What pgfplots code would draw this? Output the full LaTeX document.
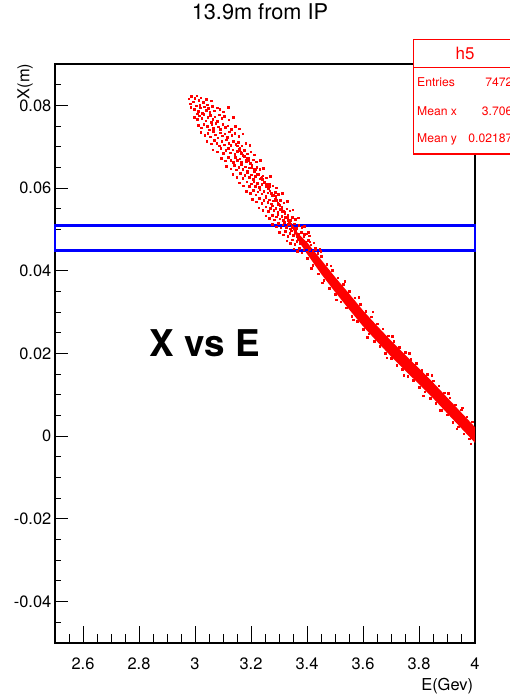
\documentclass[border=0pt]{standalone}
\usepackage{fontspec}
\setmainfont{TeX Gyre Heros}
\usepackage{pgfplots}
\usepackage{pgfplotstable}
\pgfplotsset{compat=1.18}

% sparse upper part of the band, read slice by slice
\pgfplotstableread{
E X
2.978 0.0816
2.986 0.0822
2.993 0.0809
2.999 0.0818
3.006 0.0823
3.013 0.0812
3.021 0.0819
3.029 0.0807
3.041 0.0815
3.058 0.0811
2.982 0.0804
3.017 0.0801
2.984 0.0795
2.997 0.0790
3.004 0.0799
3.011 0.0786
3.019 0.0794
3.026 0.0781
3.033 0.0797
3.039 0.0789
3.047 0.0793
3.052 0.0783
3.061 0.0798
3.068 0.0787
3.079 0.0794
3.088 0.0791
3.101 0.0785
3.118 0.0796
3.008 0.0780
3.044 0.0802
2.998 0.0772
3.007 0.0766
3.015 0.0775
3.024 0.0769
3.031 0.0778
3.038 0.0763
3.046 0.0771
3.055 0.0776
3.063 0.0767
3.071 0.0773
3.079 0.0762
3.087 0.0777
3.096 0.0769
3.105 0.0774
3.121 0.0765
3.137 0.0771
3.058 0.0759
3.012 0.0752
3.022 0.0746
3.031 0.0755
3.043 0.0749
3.051 0.0741
3.059 0.0753
3.066 0.0745
3.074 0.0757
3.082 0.0748
3.091 0.0743
3.099 0.0754
3.108 0.0747
3.117 0.0751
3.129 0.0742
3.143 0.0749
3.158 0.0744
3.021 0.0735
3.034 0.0728
3.046 0.0733
3.055 0.0724
3.064 0.0737
3.072 0.0729
3.081 0.0722
3.089 0.0734
3.097 0.0727
3.106 0.0731
3.114 0.0723
3.123 0.0736
3.131 0.0728
3.142 0.0733
3.156 0.0725
3.171 0.0731
3.042 0.0714
3.057 0.0707
3.069 0.0716
3.078 0.0709
3.087 0.0702
3.095 0.0713
3.104 0.0705
3.112 0.0717
3.120 0.0708
3.128 0.0703
3.137 0.0714
3.146 0.0706
3.155 0.0711
3.167 0.0702
3.181 0.0709
3.196 0.0704
3.063 0.0693
3.079 0.0688
3.092 0.0696
3.101 0.0684
3.109 0.0691
3.118 0.0697
3.126 0.0686
3.134 0.0693
3.142 0.0682
3.150 0.0689
3.158 0.0695
3.166 0.0685
3.175 0.0691
3.186 0.0683
3.199 0.0688
3.212 0.0681
3.094 0.0672
3.108 0.0666
3.119 0.0675
3.128 0.0668
3.136 0.0662
3.143 0.0674
3.151 0.0667
3.159 0.0671
3.166 0.0663
3.174 0.0676
3.182 0.0665
3.190 0.0672
3.199 0.0661
3.208 0.0669
3.219 0.0664
3.232 0.0667
3.112 0.0653
3.127 0.0647
3.139 0.0655
3.148 0.0644
3.156 0.0651
3.164 0.0657
3.171 0.0646
3.179 0.0652
3.186 0.0641
3.194 0.0649
3.202 0.0655
3.211 0.0643
3.220 0.0650
3.231 0.0645
3.243 0.0648
3.134 0.0633
3.149 0.0627
3.161 0.0636
3.170 0.0624
3.178 0.0631
3.186 0.0637
3.193 0.0626
3.201 0.0632
3.208 0.0622
3.216 0.0629
3.224 0.0635
3.233 0.0623
3.242 0.0630
3.254 0.0625
3.268 0.0628
3.158 0.0613
3.172 0.0606
3.184 0.0615
3.193 0.0604
3.201 0.0611
3.209 0.0617
3.216 0.0605
3.223 0.0612
3.230 0.0602
3.238 0.0609
3.246 0.0614
3.255 0.0603
3.265 0.0610
3.278 0.0606
3.291 0.0601
3.182 0.0593
3.197 0.0587
3.208 0.0595
3.217 0.0584
3.224 0.0591
3.231 0.0597
3.238 0.0586
3.245 0.0592
3.252 0.0582
3.259 0.0589
3.267 0.0594
3.276 0.0583
3.286 0.0590
3.298 0.0585
3.311 0.0588
3.205 0.0573
3.219 0.0567
3.230 0.0575
3.238 0.0564
3.245 0.0571
3.252 0.0577
3.259 0.0566
3.266 0.0572
3.273 0.0562
3.280 0.0569
3.288 0.0574
3.296 0.0563
3.305 0.0570
3.317 0.0565
3.329 0.0568
3.228 0.0553
3.242 0.0547
3.253 0.0555
3.261 0.0544
3.268 0.0551
3.275 0.0557
3.281 0.0546
3.288 0.0552
3.295 0.0542
3.302 0.0549
3.310 0.0554
3.318 0.0543
3.327 0.0550
3.338 0.0545
3.349 0.0548
3.252 0.0533
3.265 0.0527
3.275 0.0535
3.283 0.0524
3.290 0.0531
3.296 0.0537
3.302 0.0526
3.309 0.0532
3.316 0.0522
3.323 0.0529
3.331 0.0534
3.339 0.0523
3.348 0.0530
3.358 0.0525
3.369 0.0528
3.276 0.0513
3.289 0.0507
3.298 0.0515
3.306 0.0504
3.313 0.0511
3.319 0.0517
3.325 0.0506
3.332 0.0512
3.339 0.0502
3.346 0.0509
3.354 0.0514
3.362 0.0503
3.371 0.0510
3.381 0.0505
3.391 0.0508
3.301 0.0493
3.314 0.0487
3.323 0.0495
3.331 0.0484
3.338 0.0491
3.344 0.0497
3.350 0.0486
3.357 0.0492
3.364 0.0482
3.371 0.0489
3.379 0.0494
3.388 0.0483
3.397 0.0490
3.408 0.0485
3.327 0.0473
3.339 0.0467
3.348 0.0475
3.356 0.0464
3.363 0.0471
3.369 0.0477
3.375 0.0466
3.382 0.0472
3.389 0.0462
3.396 0.0469
3.404 0.0474
3.413 0.0463
3.424 0.0468
3.352 0.0453
3.364 0.0447
3.373 0.0455
3.381 0.0444
3.388 0.0451
3.394 0.0457
3.400 0.0446
3.407 0.0452
3.414 0.0442
3.421 0.0449
3.429 0.0454
3.438 0.0443
3.449 0.0448
}\upperband

% denser streak along the middle of the upper band
\pgfplotstableread{
E X
3.150 0.0702
3.157 0.0690
3.163 0.0688
3.170 0.0679
3.176 0.0677
3.183 0.0668
3.189 0.0667
3.196 0.0660
3.203 0.0650
3.209 0.0647
3.215 0.0645
3.222 0.0634
3.228 0.0633
3.235 0.0624
3.241 0.0621
3.248 0.0614
3.254 0.0609
3.261 0.0600
3.267 0.0594
3.273 0.0588
3.279 0.0583
3.284 0.0574
3.291 0.0570
3.297 0.0561
3.303 0.0558
3.309 0.0550
3.314 0.0545
3.320 0.0539
3.326 0.0530
3.331 0.0527
3.337 0.0519
3.342 0.0514
3.348 0.0506
3.353 0.0503
3.359 0.0495
3.364 0.0490
3.370 0.0483
3.375 0.0478
3.159 0.0697
3.186 0.0672
3.212 0.0641
3.238 0.0627
3.264 0.0603
3.288 0.0580
3.311 0.0544
3.333 0.0521
3.356 0.0500
}\midband

% points on the ragged edges of the dense lower part
\pgfplotstableread{
E X
3.39 0.0489
3.41 0.0470
3.43 0.0452
3.45 0.0435
3.47 0.0416
3.49 0.0401
3.51 0.0383
3.53 0.0368
3.55 0.0350
3.57 0.0335
3.59 0.0320
3.61 0.0302
3.63 0.0289
3.65 0.0272
3.67 0.0260
3.69 0.0243
3.71 0.0230
3.73 0.0215
3.75 0.0203
3.77 0.0187
3.79 0.0176
3.81 0.0160
3.83 0.0150
3.85 0.0134
3.87 0.0122
3.89 0.0105
3.91 0.0093
3.93 0.0076
3.95 0.0064
3.97 0.0047
3.99 0.0035
3.40 0.0430
3.42 0.0414
3.44 0.0393
3.46 0.0378
3.48 0.0358
3.50 0.0344
3.52 0.0325
3.54 0.0311
3.56 0.0291
3.58 0.0278
3.60 0.0259
3.62 0.0248
3.64 0.0229
3.66 0.0218
3.68 0.0201
3.70 0.0189
3.72 0.0172
3.74 0.0162
3.76 0.0145
3.78 0.0135
3.80 0.0119
3.82 0.0108
3.84 0.0092
3.86 0.0080
3.88 0.0063
3.90 0.0052
3.92 0.0034
3.94 0.0023
3.96 0.0006
3.98 -0.0006
3.405 0.0493
3.445 0.0452
3.485 0.0412
3.535 0.0374
3.585 0.0336
3.635 0.0301
3.705 0.0242
3.765 0.0200
3.845 0.0147
3.905 0.0104
3.955 0.0069
3.415 0.0407
3.455 0.0371
3.505 0.0330
3.565 0.0282
3.615 0.0239
3.685 0.0190
3.745 0.0148
3.815 0.0098
3.875 0.0063
3.935 0.0018
3.985 -0.0018
}\edgeband

% outline of the solid core of the band
\pgfplotstableread{
E X
3.34 0.0514
3.37 0.0489
3.40 0.0469
3.45 0.0427
3.50 0.0385
3.55 0.0345
3.60 0.0304
3.65 0.0267
3.70 0.0231
3.75 0.0197
3.80 0.0164
3.85 0.0130
3.90 0.0094
3.95 0.0058
4.00 0.0022
4.00 -0.0016
3.95 0.0020
3.90 0.0056
3.85 0.0092
3.80 0.0126
3.75 0.0159
3.70 0.0193
3.65 0.0229
3.60 0.0266
3.55 0.0307
3.50 0.0349
3.45 0.0393
3.40 0.0441
3.37 0.0472
}\coreband

\begin{document}
\begin{tikzpicture}
\useasboundingbox (0,0) rectangle (510bp,695bp);
\clip (0,0) rectangle (510bp,695bp);
\begin{axis}[
    at={(55bp,52bp)}, anchor=south west,
    scale only axis, width=420bp, height=579bp,
    clip=false,
    xmin=2.5, xmax=4, ymin=-0.05, ymax=0.09,
    xtick={2.6,2.8,3,3.2,3.4,3.6,3.8,4},
    ytick={-0.04,-0.02,0,0.02,0.04,0.06,0.08},
    minor xtick={2.55,2.65,2.7,2.75,2.85,2.9,2.95,3.05,3.1,3.15,3.25,3.3,3.35,3.45,3.5,3.55,3.65,3.7,3.75,3.85,3.9,3.95},
    minor ytick={-0.045,-0.035,-0.03,-0.025,-0.015,-0.01,-0.005,0.005,0.01,0.015,0.025,0.03,0.035,0.045,0.05,0.055,0.065,0.07,0.075,0.085},
    scaled ticks=false,
    /pgf/number format/fixed,
    /pgf/number format/assume math mode=true,
    tick align=inside, xtick pos=left, ytick pos=left,
    axis line style={line width=1.1bp},
    every tick/.style={black, line width=1bp},
    x tick style={/pgfplots/major tick length=17bp, /pgfplots/minor tick length=8.5bp},
    y tick style={/pgfplots/major tick length=12.6bp, /pgfplots/minor tick length=6.3bp},
    tick label style={font=\fontsize{16.5}{16.5}\selectfont, inner sep=0pt},
    xticklabel style={anchor=north, yshift=-15bp},
    yticklabel style={anchor=east, xshift=-3.5bp},
    xlabel={E(Gev)},
    ylabel={X(m)},
    label style={font=\fontsize{16.5}{16.5}\selectfont, inner sep=0pt},
    xlabel style={at={(rel axis cs:0.996,-0.0812)}, anchor=base east},
    ylabel style={at={(rel axis cs:-0.0714,1.001)}, anchor=east},
    title={13.9m from IP},
    title style={at={(rel axis cs:0.488,1.0794)}, anchor=center, font=\fontsize{21.8}{21.8}\selectfont, inner sep=0pt},
]
\addplot[red, fill=red, draw=none] table {\coreband};
\addplot[only marks, mark=square*, mark size=0.8bp, red, mark options={draw=none, fill=red}] table {\upperband};
\addplot[only marks, mark=square*, mark size=0.8bp, red, mark options={draw=none, fill=red}] table {\midband};
\addplot[only marks, mark=square*, mark size=0.85bp, red, mark options={draw=none, fill=red}] table {\edgeband};
\addplot[blue, line width=2.8bp, mark=none] coordinates {(2.5,0.045) (4,0.045) (4,0.051) (2.5,0.051)} -- cycle;
\node[font=\fontsize{37}{37}\selectfont\bfseries] at (rel axis cs:0.357,0.518) {X vs E};
\end{axis}
% statistics box, cut by the right edge of the picture
\draw[red, line width=1.3bp, fill=white] (413.3bp,541bp) rectangle (517bp,655.7bp);
\draw[red, line width=1.3bp] (413.3bp,627.7bp) -- (517bp,627.7bp);
\node[red, font=\fontsize{17}{17}\selectfont, inner sep=0pt] at (465bp,641.7bp) {h5};
\begin{scope}[every node/.style={red, font=\fontsize{12.2}{12.2}\selectfont, inner sep=0pt}]
\node[anchor=base west] at (417bp,608bp) {Entries};
\node[anchor=base west] at (417bp,579.6bp) {Mean x};
\node[anchor=base west] at (417bp,552.6bp) {Mean y};
\node[anchor=base east] at (512.5bp,608bp) {7472};
\node[anchor=base east] at (512.5bp,579.6bp) {3.706};
\node[anchor=base east] at (512.5bp,552.6bp) {0.02187};
\end{scope}
\end{tikzpicture}
\end{document}
